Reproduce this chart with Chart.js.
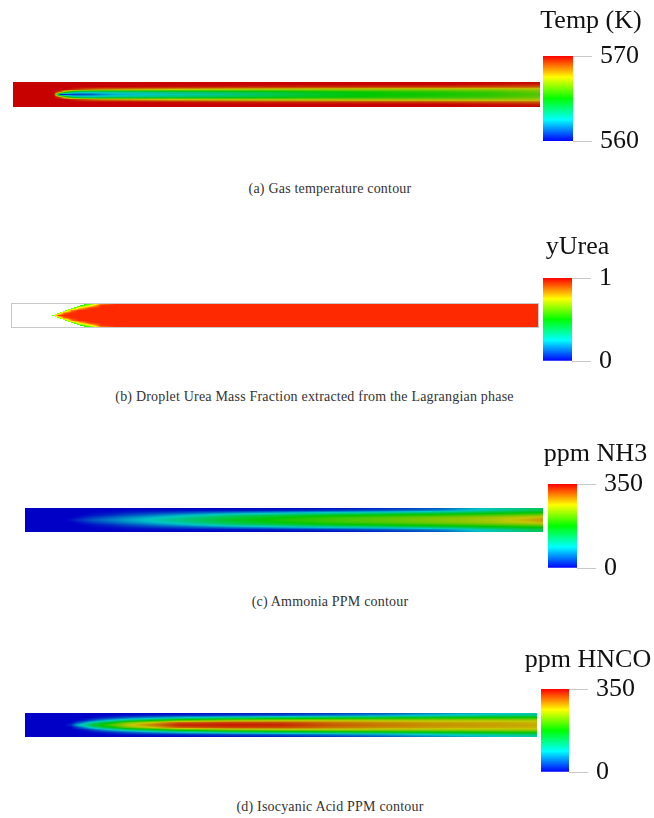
<!DOCTYPE html>
<html>
<head>
<meta charset="utf-8">
<script src="https://cdn.jsdelivr.net/npm/chart.js@4.4.1/dist/chart.umd.min.js"></script>
<style>
  body { margin: 0; background: #fff; }
  #figure { position: relative; width: 654px; height: 818px; overflow: hidden; }
  #figure canvas { position: absolute; }
  .caption {
    position: absolute; white-space: nowrap; transform: translateX(-50%);
    font-family: "Liberation Serif", serif; font-size: 14px; letter-spacing: 0.2px; line-height: 16px; color: #333;
  }
</style>
</head>
<body>
<div id="figure"></div>
<script>
// --- axial stations (x / L) and radial levels (r / R, centre to wall) ---
const axialPos  = [0, 0.078, 0.09, 0.1, 0.115, 0.13, 0.15, 0.17, 0.2, 0.3, 0.4, 0.5, 0.6, 0.7, 0.8, 0.9, 1.0];
const radialPos = [0, 0.2, 0.4, 0.6, 0.8, 1.0];

// rows follow radialPos, columns follow axialPos
const tempK = [
  [570, 570, 560.3, 560.5, 560.8, 561.0, 561.3, 561.8, 562.2, 562.8, 563.3, 564.0, 564.6, 565.0, 565.2, 565.5, 566.0],
  [570, 570, 569.0, 566.0, 563.5, 563.0, 562.8, 563.0, 563.2, 563.7, 564.1, 564.5, 564.9, 565.2, 565.4, 565.7, 566.3],
  [570, 570, 570, 570, 569.5, 569.0, 568.5, 568.2, 568.0, 567.5, 567.2, 567.0, 566.9, 566.8, 566.8, 566.8, 567.0],
  [570, 570, 570, 570, 570, 570, 570, 570, 570, 569.8, 569.6, 569.5, 569.4, 569.3, 569.2, 569.0, 568.8],
  [570, 570, 570, 570, 570, 570, 570, 570, 570, 570, 570, 570, 570, 570, 570, 569.8, 569.6],
  [570, 570, 570, 570, 570, 570, 570, 570, 570, 570, 570, 570, 570, 570, 570, 570, 570]
];

// droplet cloud: no droplets (null) upstream of the spray front
const yUrea = [
  [null, 0.55, 0.95, 0.96, 0.96, 0.96, 0.96, 0.96, 0.96, 0.96, 0.96, 0.96, 0.96, 0.96, 0.96, 0.96, 0.96],
  [null, null, 0.55, 0.90, 0.96, 0.96, 0.96, 0.96, 0.96, 0.96, 0.96, 0.96, 0.96, 0.96, 0.96, 0.96, 0.96],
  [null, null, null, 0.50, 0.88, 0.96, 0.96, 0.96, 0.96, 0.96, 0.96, 0.96, 0.96, 0.96, 0.96, 0.96, 0.96],
  [null, null, null, null, 0.50, 0.78, 0.95, 0.96, 0.96, 0.96, 0.96, 0.96, 0.96, 0.96, 0.96, 0.96, 0.96],
  [null, null, null, null, null, 0.50, 0.72, 0.95, 0.96, 0.96, 0.96, 0.96, 0.96, 0.96, 0.96, 0.96, 0.96],
  [null, null, null, null, null, null, 0.45, 0.80, 0.96, 0.96, 0.96, 0.96, 0.96, 0.96, 0.96, 0.96, 0.96]
];
const ureaFront = [0.078, 0.090, 0.103, 0.116, 0.131, 0.148]; // spray front x / L at each radialPos

const nh3Ppm = [
  [0, 0, 10, 20, 30, 40, 50, 60, 75, 120, 160, 185, 205, 220, 235, 250, 285],
  [0, 0, 0, 5, 15, 25, 35, 45, 60, 105, 150, 178, 198, 212, 228, 245, 270],
  [0, 0, 0, 0, 3, 8, 15, 22, 35, 75, 115, 140, 165, 180, 195, 210, 230],
  [0, 0, 0, 0, 0, 2, 5, 8, 15, 35, 60, 80, 100, 115, 135, 160, 180],
  [0, 0, 0, 0, 0, 0, 0, 0, 2, 5, 8, 15, 25, 40, 60, 105, 145],
  [0, 0, 0, 0, 0, 0, 0, 0, 0, 0, 0, 0, 5, 15, 35, 95, 135]
];

const hncoPpm = [
  [0, 0, 20, 70, 110, 150, 185, 215, 260, 335, 340, 335, 312, 298, 288, 282, 276],
  [0, 0, 0, 25, 60, 100, 140, 170, 225, 310, 322, 318, 300, 288, 280, 276, 271],
  [0, 0, 0, 0, 10, 30, 60, 85, 120, 200, 232, 245, 248, 246, 246, 246, 246],
  [0, 0, 0, 0, 0, 5, 15, 25, 45, 90, 120, 140, 155, 165, 175, 185, 190],
  [0, 0, 0, 0, 0, 0, 0, 3, 8, 20, 30, 40, 55, 70, 90, 110, 125],
  [0, 0, 0, 0, 0, 0, 0, 0, 0, 0, 5, 10, 20, 35, 55, 75, 95]
];

// colour bar ranges / tick labels
const tempTicks = [560, 570];
const ureaTicks = [0, 1];
const ppmTicks  = [0, 350];

const titles   = ['Temp (K)', 'yUrea', 'ppm NH3', 'ppm HNCO'];
const captions = [
  '(a) Gas temperature contour',
  '(b) Droplet Urea Mass Fraction extracted from the Lagrangian phase',
  '(c) Ammonia PPM contour',
  '(d) Isocyanic Acid PPM contour'
];

// rainbow colour map (blue -> cyan -> green -> yellow -> red)
const colorStops = [
  [0.00, [0, 0, 255]],
  [0.25, [0, 255, 255]],
  [0.50, [0, 255, 0]],
  [0.75, [255, 255, 0]],
  [1.00, [255, 0, 0]]
];

function mapColor(t, shade) {
  t = Math.max(0, Math.min(1, t));
  let i = 0;
  while (i < colorStops.length - 2 && t > colorStops[i + 1][0]) i++;
  const a = colorStops[i], b = colorStops[i + 1];
  const f = (t - a[0]) / (b[0] - a[0]);
  const c = a[1].map((v, k) => Math.round((v + (b[1][k] - v) * f) * shade));
  return `rgb(${c[0]},${c[1]},${c[2]})`;
}

// gaps (null) take the first value found downstream, the front clips them later
function filled(row) {
  return row.map((v, j) => {
    if (v !== null) return v;
    const next = row.slice(j).find(w => w !== null);
    return next === undefined ? 0 : next;
  });
}

function bracket(r) {
  let i = 0;
  while (i < radialPos.length - 2 && r > radialPos[i + 1]) i++;
  const f = Math.max(0, Math.min(1, (r - radialPos[i]) / (radialPos[i + 1] - radialPos[i])));
  return [i, f];
}

function valueAt(row, x) {
  let j = 0;
  while (j < axialPos.length - 2 && x > axialPos[j + 1]) j++;
  const f = (x - axialPos[j]) / (axialPos[j + 1] - axialPos[j]);
  return row[j] + (row[j + 1] - row[j]) * f;
}

// draws the contour strip through the chart's x / y scales
function fieldLayer(field, range, shade, front) {
  const rows = field.map(filled);
  return {
    id: 'fieldLayer',
    beforeDatasetsDraw(chart) {
      const xs = chart.scales.x, ys = chart.scales.y, ctx = chart.ctx;
      const x0 = xs.getPixelForValue(axialPos[0]);
      const x1 = xs.getPixelForValue(axialPos[axialPos.length - 1]);
      const top = Math.round(ys.getPixelForValue(1));
      const bottom = Math.round(ys.getPixelForValue(-1));
      const pos = v => (xs.getPixelForValue(v) - x0) / (x1 - x0);
      const color = v => mapColor((v - range[0]) / (range[1] - range[0]), shade);
      const clear = 'rgba(255,255,255,0)';
      ctx.save();
      for (let py = top; py < bottom; py++) {
        const r = Math.abs(ys.getValueForPixel(py + 0.5));
        const [i, f] = bracket(r);
        const row = rows[i].map((a, j) => a + (rows[i + 1][j] - a) * f);
        let stops = [];
        for (let j = 0; j < axialPos.length - 1; j++) {
          for (let k = 0; k < 8; k++) {
            stops.push([axialPos[j] + (axialPos[j + 1] - axialPos[j]) * k / 8, row[j] + (row[j + 1] - row[j]) * k / 8]);
          }
        }
        stops.push([axialPos[axialPos.length - 1], row[row.length - 1]]);
        const grad = ctx.createLinearGradient(x0, 0, x1, 0);
        if (front) {
          const xf = front[i] + (front[i + 1] - front[i]) * f;
          grad.addColorStop(0, clear);
          grad.addColorStop(pos(xf), clear);
          grad.addColorStop(pos(xf), color(valueAt(row, xf)));
          stops = stops.filter(s => s[0] > xf);
        }
        stops.forEach(s => grad.addColorStop(pos(s[0]), color(s[1])));
        ctx.fillStyle = grad;
        ctx.fillRect(x0, py, x1 - x0, 1);
      }
      if (front) {
        const a = chart.chartArea;
        ctx.strokeStyle = '#c8c8c8';
        ctx.lineWidth = 1;
        ctx.strokeRect(a.left + 0.5, a.top + 0.5, a.width - 1, a.height - 1);
      }
      ctx.restore();
    }
  };
}

// page layout: strip box [left, top, width, height], colour bar box [left, top, right, bottom]
const panels = [
  { field: tempK,   ticks: tempTicks, shade: 0.78, strip: [13, 82, 527, 25],  bar: [543, 56, 573, 141],  titleMid: 22,  captionX: 330,   captionY: 189 },
  { field: yUrea,   ticks: ureaTicks, shade: 1.0,  strip: [11, 303, 528, 25], bar: [543, 278, 572, 361], titleMid: 248, captionX: 314.5, captionY: 397, front: ureaFront },
  { field: nh3Ppm,  ticks: ppmTicks,  shade: 0.78, strip: [25, 508, 518, 24], bar: [548, 484, 577, 568], titleMid: 455, captionX: 330,   captionY: 602 },
  { field: hncoPpm, ticks: ppmTicks,  shade: 0.78, strip: [25, 713, 512, 24], bar: [541, 689, 569, 772], titleMid: 661, captionX: 330,   captionY: 807 }
];

const labelFont = { family: 'Liberation Serif', size: 26, weight: 'normal' };
const titleFont = { family: 'Liberation Serif', size: 26, weight: 'normal', lineHeight: 1.2 };
const tickLen = 19, tickPad = 8, sidePad = 20, bottomPad = 30;

const figure = document.getElementById('figure');
const measure = document.createElement('canvas').getContext('2d');
measure.font = `${labelFont.size}px "${labelFont.family}"`;

function addCanvas(left, top, width, height) {
  const c = document.createElement('canvas');
  c.width = width; c.height = height;
  c.style.left = left + 'px'; c.style.top = top + 'px';
  c.style.width = width + 'px'; c.style.height = height + 'px';
  figure.appendChild(c);
  return c;
}

panels.forEach((p, n) => {
  const range = [p.ticks[0], p.ticks[p.ticks.length - 1]];

  // --- contour strip ---
  const s = p.strip;
  new Chart(addCanvas(s[0], s[1], s[2], s[3]), {
    type: 'scatter',
    data: { datasets: [] },
    options: {
      responsive: false,
      animation: false,
      layout: { padding: 0 },
      scales: {
        x: { type: 'linear', min: 0, max: 1, display: false },
        y: { type: 'linear', min: -1, max: 1, display: false }
      },
      plugins: { legend: { display: false }, tooltip: { enabled: false } }
    },
    plugins: [fieldLayer(p.field, range, p.shade, p.front)]
  });

  // --- colour bar ---
  const b = p.bar;
  const labelW = Math.max(...p.ticks.map(t => measure.measureText(String(t)).width));
  const titleH = titleFont.size * titleFont.lineHeight;
  const cTop = Math.round(p.titleMid - titleH / 2);
  const cLeft = b[0] - sidePad;
  const cWidth = Math.ceil(sidePad * 2 + (b[2] - b[0]) + tickLen + tickPad + labelW);
  const cHeight = b[3] + bottomPad - cTop;
  new Chart(addCanvas(cLeft, cTop, cWidth, cHeight), {
    type: 'bar',
    data: {
      labels: [''],
      datasets: [{
        data: [range],
        xAxisID: 'x',
        yAxisID: 'y',
        barPercentage: 1,
        categoryPercentage: 1,
        borderWidth: 0,
        backgroundColor: function (context) {
          const area = context.chart.chartArea;
          if (!area) return '#888';
          const g = context.chart.ctx.createLinearGradient(0, area.bottom, 0, area.top);
          colorStops.forEach(st => g.addColorStop(st[0], mapColor(st[0], 1)));
          return g;
        }
      }]
    },
    options: {
      responsive: false,
      animation: false,
      layout: { padding: { left: 0, right: 0, top: 0, bottom: bottomPad } },
      scales: {
        x: { display: false },
        y: {
          position: 'right',
          min: range[0],
          max: range[1],
          afterBuildTicks: axis => { axis.ticks = p.ticks.map(v => ({ value: v })); },
          afterFit: axis => { axis.width = tickLen + tickPad + labelW + sidePad; },
          grid: { drawOnChartArea: false, drawTicks: true, tickLength: tickLen, color: '#c8c8c8', lineWidth: 1 },
          border: { display: false },
          ticks: { font: labelFont, color: '#111', padding: tickPad }
        },
        // empty left axis: keeps the title centred over bar + labels
        spacer: {
          type: 'linear', position: 'left', display: true,
          grid: { display: false }, ticks: { display: false }, border: { display: false },
          afterFit: axis => { axis.width = sidePad; }
        }
      },
      plugins: {
        legend: { display: false },
        tooltip: { enabled: false },
        title: {
          display: true,
          text: titles[n],
          font: titleFont,
          color: '#111',
          padding: { top: 0, bottom: b[1] - cTop - titleH }
        }
      }
    }
  });

  // --- caption ---
  const cap = document.createElement('div');
  cap.className = 'caption';
  cap.textContent = captions[n];
  cap.style.left = p.captionX + 'px';
  cap.style.top = (p.captionY - 8) + 'px';
  figure.appendChild(cap);
});
</script>
</body>
</html>
